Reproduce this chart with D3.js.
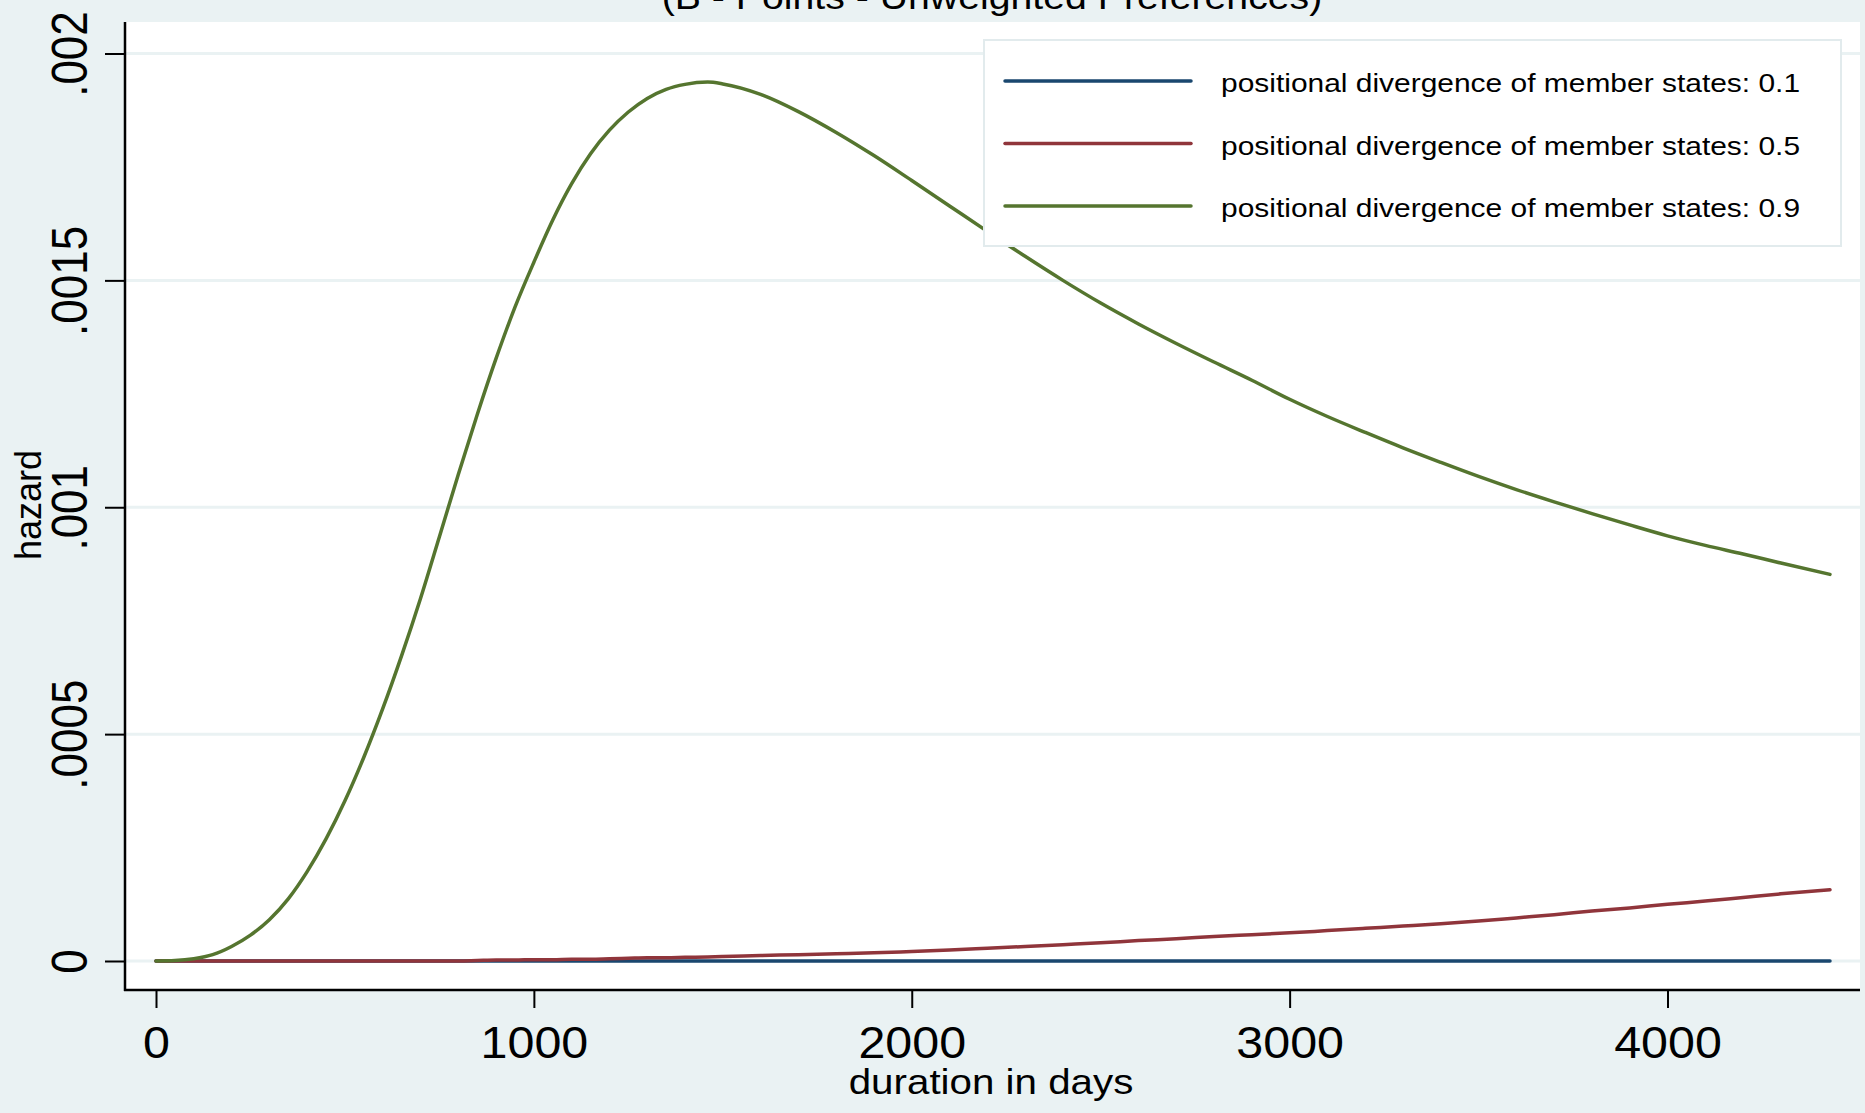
<!DOCTYPE html>
<html>
<head>
<meta charset="utf-8">
<script src="https://d3js.org/d3.v7.min.js"></script>
<style>
  body { margin: 0; background: #EAF2F3; }
  svg { display: block; font-family: "Liberation Sans", Arial, sans-serif; }
</style>
</head>
<body>
<div id="chart"></div>
<script>
// hazard values, one entry per day value
var days = [0, 50, 100, 150, 200, 250, 300, 350, 400, 450, 500, 550, 600, 650, 700, 750, 800, 850, 900, 950,
  1000, 1050, 1100, 1150, 1200, 1250, 1300, 1350, 1400, 1460, 1500,
  1600, 1700, 1800, 1900, 2000, 2100, 2200, 2300, 2400, 2500, 2600, 2700, 2800, 2900,
  3000, 3100, 3200, 3300, 3400, 3500, 3600, 3700, 3800, 3900, 4000, 4100, 4200, 4300, 4430];

var hazardLow = [0, 0, 0, 0, 0, 0, 0, 0, 0, 0, 0, 0, 0, 0, 0, 0, 0, 0, 0, 0,
  0, 0, 0, 0, 0, 0, 0, 0, 0, 0, 0,
  0, 0, 0, 0, 0, 0, 0, 0, 0, 0, 0, 0, 0, 0,
  0, 0, 0, 0, 0, 0, 0, 0, 0, 0, 0, 0, 0, 0, 0];

var hazardMid = [0, 0, 0, 0, 0, 0, 0, 0, 0, 0, 0, 0, 0, 0, 0, 0, 0, 0.000001, 0.000002, 0.000002,
  0.000003, 0.000003, 0.000004, 0.000004, 0.000005, 0.000006, 0.000007, 0.000007, 0.000008, 0.000009, 0.00001,
  0.000012, 0.000014, 0.000016, 0.000018, 0.000021, 0.000024, 0.000028, 0.000032, 0.000036, 0.00004, 0.000045, 0.000049, 0.000054, 0.000058,
  0.000062, 0.000067, 0.000072, 0.000077, 0.000082, 0.000088, 0.000095, 0.000102, 0.00011, 0.000117, 0.000125, 0.000132, 0.00014, 0.000148, 0.000157];

var hazardHigh = [0, 0.000001, 0.000005, 0.000014, 0.000032, 0.000057, 0.000091, 0.000137, 0.000197, 0.000269, 0.000353, 0.000449, 0.000556, 0.000673, 0.000799, 0.000935, 0.001072, 0.001204, 0.001328, 0.001441,
  0.00154, 0.001633, 0.001713, 0.001779, 0.001831, 0.001871, 0.001901, 0.001921, 0.001932, 0.001937, 0.001933,
  0.00191, 0.001872, 0.001826, 0.001775, 0.00172, 0.001664, 0.001608, 0.001553, 0.0015, 0.00145, 0.001404, 0.001361, 0.00132, 0.00128,
  0.001238, 0.0012, 0.001165, 0.001131, 0.001099, 0.001068, 0.001039, 0.001012, 0.000986, 0.000961, 0.000937, 0.000916, 0.000897, 0.000877, 0.000852];

var seriesLabels = ["positional divergence of member states: 0.1",
  "positional divergence of member states: 0.5",
  "positional divergence of member states: 0.9"];

var xTicks = [0, 1000, 2000, 3000, 4000];
var yTicks = [0, 0.0005, 0.001, 0.0015, 0.002];
var yTickLabels = ["0", ".0005", ".001", ".0015", ".002"];

var chartTitle = "(B - Points - Unweighted Preferences)";
var xTitle = "duration in days";
var yTitle = "hazard";

window.onload = function() {

  // stata s2color look
  var colors = ["#1A476F", "#90353B", "#55752F"];
  var bg = "#EAF2F3";
  var stretch = 1.12;

  var w = 1865, h = 1113;
  var plot = {left: 125, right: 1860, top: 22, bottom: 990};

  var series = [hazardLow, hazardMid, hazardHigh];

  // scales
  var xScale = d3.scaleLinear().domain([0, 4000]).range([156, 1667.5]);
  var yScale = d3.scaleLinear().domain([0, 0.002]).range([961, 53.5]);

  var svg = d3.select("#chart")
    .append("svg")
    .attr("width", w)
    .attr("height", h);

  // outer background
  svg.append("rect")
    .attr("width", w)
    .attr("height", h)
    .attr("fill", bg);

  // plot region
  svg.append("rect")
    .attr("x", plot.left)
    .attr("y", plot.top)
    .attr("width", plot.right - plot.left)
    .attr("height", plot.bottom - plot.top)
    .attr("fill", "#fff");

  // title, mostly cut off at the top
  svg.append("text")
    .attr("transform", "translate(992,9) scale(1.09,1)")
    .attr("text-anchor", "middle")
    .style("font-size", "36px")
    .attr("fill", "#000")
    .text(chartTitle);

  // grid lines
  svg.append("g")
    .selectAll("line")
    .data(yTicks)
    .enter()
    .append("line")
    .attr("x1", plot.left)
    .attr("x2", plot.right)
    .attr("y1", function(d) { return yScale(d); })
    .attr("y2", function(d) { return yScale(d); })
    .attr("stroke", bg)
    .attr("stroke-width", 3);

  // draw the three hazard lines
  var line = d3.line()
    .x(function(d, i) { return xScale(days[i]); })
    .y(function(d) { return yScale(d); })
    .curve(d3.curveMonotoneX);

  svg.append("g")
    .selectAll("path")
    .data(series)
    .enter()
    .append("path")
    .attr("d", line)
    .attr("fill", "none")
    .attr("stroke", function(d, i) { return colors[i]; })
    .attr("stroke-width", 3.5)
    .attr("stroke-linecap", "round")
    .attr("stroke-linejoin", "round");

  // x axis
  var xAxis = d3.axisBottom(xScale)
    .tickValues(xTicks)
    .tickFormat(d3.format("d"))
    .tickSize(18)
    .tickSizeOuter(0);

  var gx = svg.append("g")
    .attr("transform", "translate(0," + plot.bottom + ")")
    .call(xAxis);
  gx.select(".domain").remove();
  gx.selectAll(".tick line").attr("stroke", "#000").attr("stroke-width", 2);
  gx.selectAll(".tick text")
    .attr("y", 68)
    .attr("dy", null)
    .attr("transform", "scale(1.1,1)")
    .attr("fill", "#000")
    .style("font-size", "44px")
    .style("font-family", "Liberation Sans, Arial, sans-serif");

  // y axis
  var yAxis = d3.axisLeft(yScale)
    .tickValues(yTicks)
    .tickFormat(function(d, i) { return yTickLabels[i]; })
    .tickSize(20)
    .tickSizeOuter(0);

  var gy = svg.append("g")
    .attr("transform", "translate(" + plot.left + ",0)")
    .call(yAxis);
  gy.select(".domain").remove();
  gy.selectAll(".tick line").attr("stroke", "#000").attr("stroke-width", 2);
  gy.selectAll(".tick text")
    .attr("x", null)
    .attr("dy", null)
    .attr("text-anchor", "middle")
    .attr("transform", "translate(-38,0) scale(" + stretch + ",1) rotate(-90)")
    .attr("fill", "#000")
    .style("font-size", "44px")
    .style("font-family", "Liberation Sans, Arial, sans-serif");

  // axis lines
  svg.append("line")
    .attr("x1", plot.left).attr("x2", plot.left)
    .attr("y1", plot.top).attr("y2", plot.bottom + 1)
    .attr("stroke", "#000").attr("stroke-width", 2.5);
  svg.append("line")
    .attr("x1", plot.left - 1).attr("x2", plot.right)
    .attr("y1", plot.bottom).attr("y2", plot.bottom)
    .attr("stroke", "#000").attr("stroke-width", 2.5);

  // axis titles
  svg.append("text")
    .attr("transform", "translate(991,1094) scale(" + stretch + ",1)")
    .attr("text-anchor", "middle")
    .style("font-size", "36px")
    .text(xTitle);

  svg.append("text")
    .attr("transform", "translate(41,505) rotate(-90)")
    .attr("text-anchor", "middle")
    .style("font-size", "36px")
    .text(yTitle);

  // legend box
  var lg = svg.append("g");
  lg.append("rect")
    .attr("x", 984)
    .attr("y", 40)
    .attr("width", 857)
    .attr("height", 206)
    .attr("fill", "#fff")
    .attr("stroke", "#E2EBED")
    .attr("stroke-width", 2);

  var items = lg.selectAll(".legend")
    .data(seriesLabels)
    .enter()
    .append("g")
    .attr("class", "legend")
    .attr("transform", function(d, i) { return "translate(0," + (81 + i * 62.5) + ")"; });

  items.append("line")
    .attr("x1", 1005)
    .attr("x2", 1191)
    .attr("stroke", function(d, i) { return colors[i]; })
    .attr("stroke-width", 3.5)
    .attr("stroke-linecap", "round");

  items.append("text")
    .attr("transform", "translate(1221,11) scale(1.13,1)")
    .style("font-size", "26.5px")
    .attr("fill", "#000")
    .text(function(d) { return d; });
};
</script>
</body>
</html>
